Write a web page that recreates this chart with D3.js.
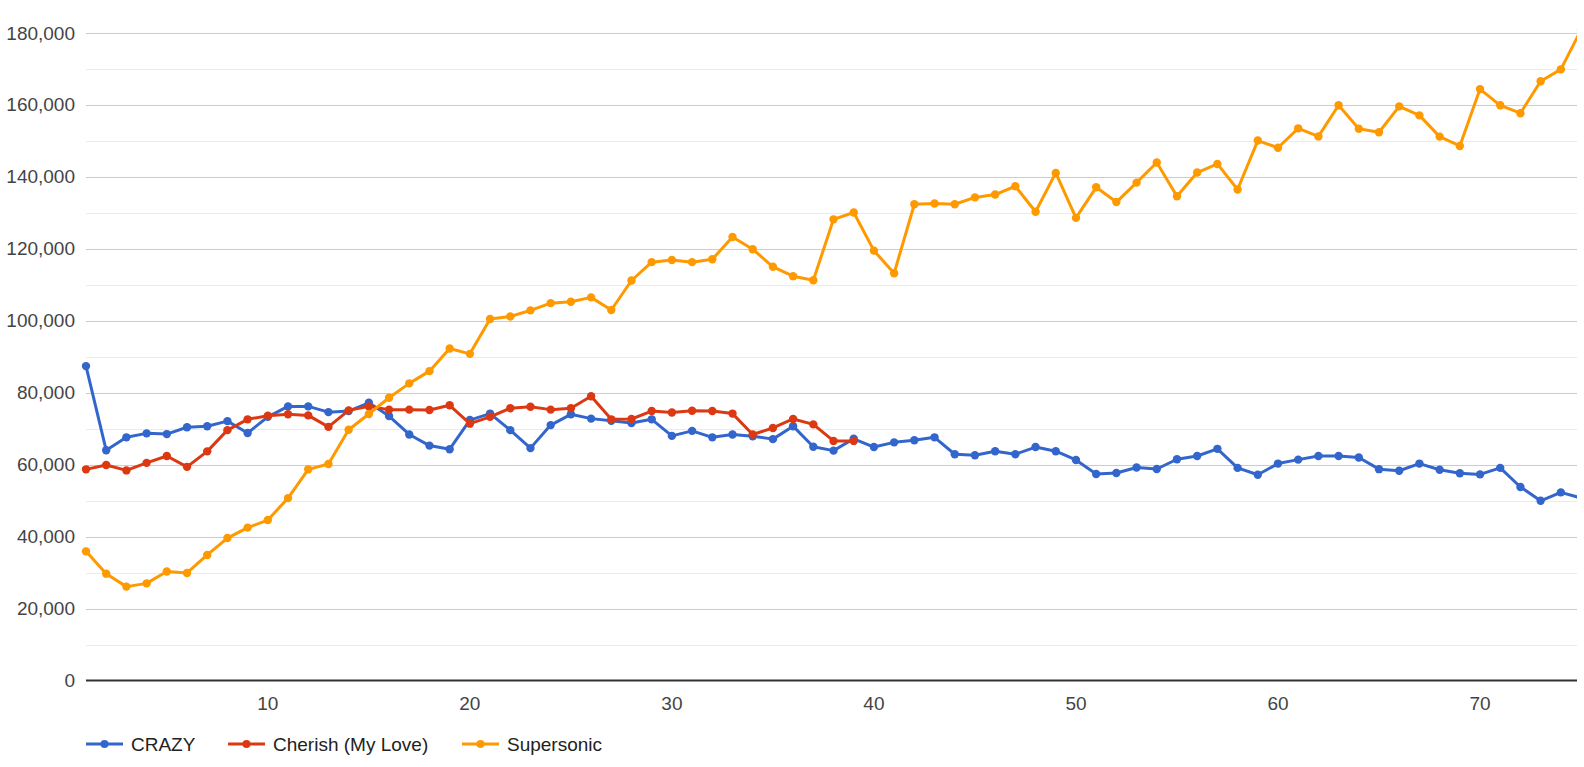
<!DOCTYPE html>
<html>
<head>
<meta charset="utf-8">
<script src="https://cdn.jsdelivr.net/npm/d3@7"></script>
<style>
  html, body { margin: 0; padding: 0; background: #fff; }
  svg { display: block; font-family: "Liberation Sans", Arial, sans-serif; }
</style>
</head>
<body>
<svg id="chart" width="1584" height="767"></svg>
<script>
// ---- Data (weeks 1..75) ----
const weeks = d3.range(1, 76);
const seriesNames = ["CRAZY", "Cherish (My Love)", "Supersonic"];
const seriesColors = ["#3366cc", "#dc3912", "#ff9900"];
const crazy = [87400, 64000, 67600, 68700, 68500, 70400, 70700, 72100, 68800, 73300,
  76200, 76200, 74600, 74900, 77200, 73500, 68400, 65300, 64300, 72400,
  74200, 69600, 64600, 71000, 74000, 72800, 72200, 71600, 72600, 68000,
  69400, 67600, 68400, 67900, 67100, 70700, 65000, 63900, 67200, 64900,
  66200, 66800, 67600, 62900, 62600, 63750, 62900, 64900, 63750, 61300,
  57400, 57700, 59200, 58800, 61500, 62400, 64400, 59100, 57200, 60300,
  61400, 62400, 62400, 62000, 58750, 58300, 60300, 58600, 57600, 57300,
  59100, 53800, 49950, 52300, 50750];
const cherish = [58700, 59900, 58400, 60500, 62400, 59400, 63700, 69600, 72600, 73600,
  74000, 73700, 70500, 75100, 76200, 75300, 75300, 75200, 76500, 71400,
  73300, 75700, 76100, 75300, 75700, 79000, 72600, 72700, 74900, 74500,
  75000, 74900, 74200, 68400, 70200, 72700, 71200, 66600, 66600];
const supersonic = [35900, 29700, 26100, 27000, 30300, 29900, 34900, 39600, 42500, 44600,
  50700, 58700, 60200, 69700, 74100, 78600, 82600, 86000, 92300, 90800,
  100500, 101200, 102900, 104900, 105300, 106500, 103000, 111200, 116300, 116900,
  116300, 117100, 123300, 119900, 115000, 112400, 111250, 128200, 130100, 119500,
  113200, 132400, 132600, 132400, 134300, 135100, 137400, 130300, 141100, 128600,
  137100, 133000, 138400, 144000, 134600, 141200, 143600, 136500, 150100, 148100,
  153500, 151250, 159900, 153400, 152400, 159600, 157100, 151200, 148600, 164400,
  159900, 157700, 166600, 169900, 180900];
const xTicks = [10, 20, 30, 40, 50, 60, 70];
const yTicks = [0, 20000, 40000, 60000, 80000, 100000, 120000, 140000, 160000, 180000];
const yMinor = [10000, 30000, 50000, 70000, 90000, 110000, 130000, 150000, 170000];

const seriesValues = [crazy, cherish, supersonic];

(function () {
  // ---- Layout ----
  const pLeft = 86, pRight = 1577, pTop = 33, pBottom = 680.5;
  const x = d3.scaleLinear().domain([1, 74.8]).range([pLeft, pRight]);
  const y = d3.scaleLinear().domain([0, 180000]).range([pBottom, pTop]);

  const svg = d3.select("#chart");
  const fmt = d3.format(",");

  // minor gridlines
  svg.append("g").selectAll("line").data(yMinor).join("line")
    .attr("x1", pLeft).attr("x2", pRight)
    .attr("y1", d => Math.round(y(d)) + 0.5).attr("y2", d => Math.round(y(d)) + 0.5)
    .attr("stroke", "#ebebeb").attr("stroke-width", 1);

  // major gridlines
  svg.append("g").selectAll("line").data(yTicks.filter(d => d !== 0)).join("line")
    .attr("x1", pLeft).attr("x2", pRight)
    .attr("y1", d => Math.round(y(d)) + 0.5).attr("y2", d => Math.round(y(d)) + 0.5)
    .attr("stroke", "#cccccc").attr("stroke-width", 1);

  // y labels
  svg.append("g").selectAll("text").data(yTicks).join("text")
    .attr("x", 75).attr("y", d => y(d))
    .attr("text-anchor", "end").attr("dominant-baseline", "central")
    .attr("font-size", 19).attr("fill", "#444")
    .text(d => fmt(d));

  // x labels
  svg.append("g").selectAll("text").data(xTicks).join("text")
    .attr("x", d => x(d)).attr("y", 703)
    .attr("text-anchor", "middle").attr("dominant-baseline", "central")
    .attr("font-size", 19).attr("fill", "#444")
    .text(d => d);

  // clip (right edge cuts the series; left keeps first markers whole)
  svg.append("defs").append("clipPath").attr("id", "plotclip")
    .append("rect").attr("x", pLeft - 8).attr("y", 0).attr("width", pRight - pLeft + 8).attr("height", pBottom + 10);

  const plot = svg.append("g").attr("clip-path", "url(#plotclip)");
  const line = d3.line().x((d, i) => x(weeks[i])).y(d => y(d));

  seriesValues.forEach((vals, si) => {
    const g = plot.append("g");
    g.append("path").datum(vals)
      .attr("d", line)
      .attr("fill", "none")
      .attr("stroke", seriesColors[si])
      .attr("stroke-width", 3)
      .attr("stroke-linejoin", "round");
    g.selectAll("circle").data(vals).join("circle")
      .attr("cx", (d, i) => x(weeks[i]))
      .attr("cy", d => y(d))
      .attr("r", 4.2)
      .attr("fill", seriesColors[si]);
  });

  // baseline
  svg.append("line")
    .attr("x1", pLeft).attr("x2", pRight)
    .attr("y1", y(0)).attr("y2", y(0))
    .attr("stroke", "#333").attr("stroke-width", 2);

  // legend
  const legendX = [86, 228, 462];
  const lg = svg.append("g");
  seriesNames.forEach((name, i) => {
    const lx = legendX[i], ly = 744;
    lg.append("line").attr("x1", lx).attr("x2", lx + 37).attr("y1", ly).attr("y2", ly)
      .attr("stroke", seriesColors[i]).attr("stroke-width", 3);
    lg.append("circle").attr("cx", lx + 18.5).attr("cy", ly).attr("r", 4).attr("fill", seriesColors[i]);
    lg.append("text").attr("x", lx + 45).attr("y", ly)
      .attr("dominant-baseline", "central").attr("font-size", 19).attr("fill", "#222")
      .text(name);
  });
})();
</script>
</body>
</html>
